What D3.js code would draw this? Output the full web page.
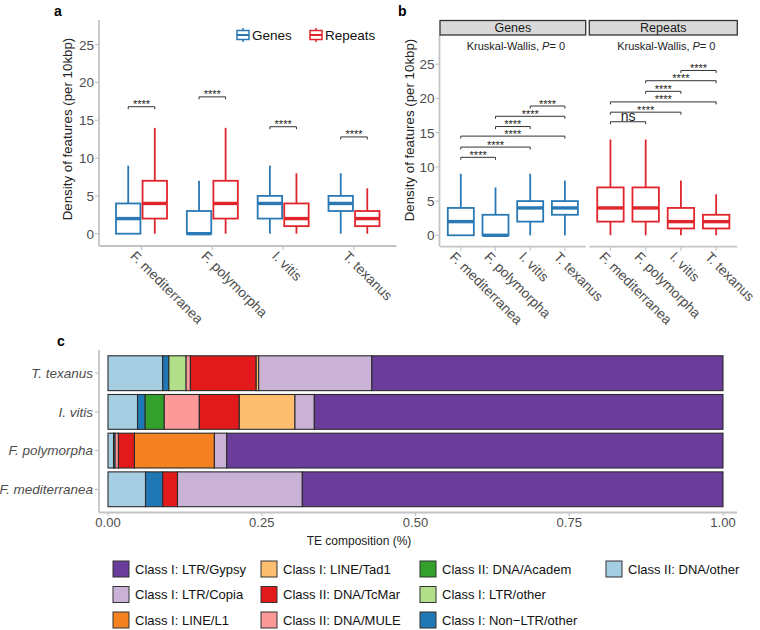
<!DOCTYPE html>
<html>
<head>
<meta charset="utf-8">
<script src="https://cdn.jsdelivr.net/npm/d3@7"></script>
<style>
  body { margin: 0; background: #fff; }
  svg { display: block; font-family: "Liberation Sans", Arial, sans-serif; }
</style>
</head>
<body>
<svg id="fig" width="760" height="630"></svg>
<script>
// species on the x axis (a, b) and y axis (c)
const species = ["F. mediterranea", "F. polymorpha", "I. vitis", "T. texanus"];

// box stats per species: [lower whisker, q1, median, q3, upper whisker]
const geneStats = [[0, 0, 2, 4, 9], [0, 0, 0, 3, 7], [0, 2, 4, 5, 9], [0, 3, 4, 5, 8]];
const repeatStats = [[0, 2, 4, 7, 14], [0, 2, 4, 7, 14], [0, 1, 2, 4, 8], [0, 1, 2, 3, 6]];

// panel a: genes vs repeats bracket height per species
const sigA = [16.8, 18.1, 14.15, 12.8];

// panel b: pairwise comparisons (species index pairs), bracket heights, labels
const compPairs = [[0, 1], [0, 2], [0, 3], [1, 2], [1, 3], [2, 3]];
const sigGenesY = [11.4, 12.9, 14.5, 15.9, 17.4, 18.9];
const sigGenesLab = ["****", "****", "****", "****", "****", "****"];
const sigRepeatsY = [16.6, 18.0, 19.5, 21.05, 22.6, 24.1];
const sigRepeatsLab = ["ns", "****", "****", "****", "****", "****"];

const yTicks = [0, 5, 10, 15, 20, 25];

// panel c: TE classes (legend order) and colours
const teClasses = [
  "Class I: LTR/Gypsy", "Class I: LTR/Copia", "Class I: LINE/L1",
  "Class I: LINE/Tad1", "Class II: DNA/TcMar", "Class II: DNA/MULE",
  "Class II: DNA/Academ", "Class I: LTR/other", "Class I: Non\u2212LTR/other",
  "Class II: DNA/other"
];
const teColors = ["#6a3d9a", "#cab2d6", "#f58220", "#fdbf6f", "#e31a1c",
  "#fb9a99", "#33a02c", "#b2df8a", "#1f78b4", "#a6cee3"];

// fractions per species, same order as teClasses
const compFMed = [0.684, 0.203, 0, 0, 0.024, 0, 0, 0, 0.028, 0.061];
const compFPoly = [0.807, 0.020, 0.130, 0, 0.026, 0.0055, 0, 0, 0.0025, 0.009];
const compIVitis = [0.6645, 0.0315, 0, 0.0905, 0.065, 0.057, 0.031, 0, 0.0125, 0.048];
const compTTex = [0.571, 0.184, 0, 0.004, 0.107, 0.007, 0, 0.028, 0.010, 0.089];
const compTicks = [0, 0.25, 0.5, 0.75, 1];

// colours
const geneCol = "#2a79b5";
const repCol = "#e0262c";
const axisCol = "#c4c4c4";
const tickTxt = "#4d4d4d";

const svg = d3.select("#fig");

// ---------- helpers ----------
function yAxisLeft(g, y, x, top, bottom) {
  g.append("line").attr("x1", x).attr("x2", x).attr("y1", top).attr("y2", bottom)
    .attr("stroke", axisCol).attr("stroke-width", 1.8);
  yTicks.forEach(t => {
    g.append("line").attr("x1", x - 4).attr("x2", x).attr("y1", y(t)).attr("y2", y(t))
      .attr("stroke", axisCol).attr("stroke-width", 1.2);
    g.append("text").attr("x", x - 5).attr("y", y(t)).attr("dy", "0.36em")
      .attr("text-anchor", "end").attr("font-size", 13.5).attr("fill", tickTxt).text(t);
  });
}

function xAxisBottom(g, x, x0, x1, yy) {
  g.append("line").attr("x1", x0).attr("x2", x1).attr("y1", yy).attr("y2", yy)
    .attr("stroke", axisCol).attr("stroke-width", 1.8);
  species.forEach(s => {
    const cx = x(s) + x.bandwidth() / 2;
    g.append("line").attr("x1", cx).attr("x2", cx).attr("y1", yy).attr("y2", yy + 4)
      .attr("stroke", axisCol).attr("stroke-width", 1.2);
    g.append("text")
      .attr("transform", `translate(${cx - 5},${yy + 4}) rotate(45)`)
      .attr("dy", "0.71em")
      .attr("font-size", 13.8).attr("fill", tickTxt).text(s);
  });
}

function drawBox(g, cx, w, st, y, col) {
  g.append("line").attr("x1", cx).attr("x2", cx).attr("y1", y(st[0])).attr("y2", y(st[1]))
    .attr("stroke", col).attr("stroke-width", 1.8);
  g.append("line").attr("x1", cx).attr("x2", cx).attr("y1", y(st[3])).attr("y2", y(st[4]))
    .attr("stroke", col).attr("stroke-width", 1.8);
  g.append("rect").attr("x", cx - w / 2).attr("y", y(st[3]))
    .attr("width", w).attr("height", y(st[1]) - y(st[3]))
    .attr("fill", "#fff").attr("stroke", col).attr("stroke-width", 1.8);
  g.append("line").attr("x1", cx - w / 2).attr("x2", cx + w / 2)
    .attr("y1", y(st[2])).attr("y2", y(st[2]))
    .attr("stroke", col).attr("stroke-width", 3.4);
}

function bracket(g, xa, xb, yy, label) {
  g.append("path")
    .attr("d", `M${xa},${yy + 2.5}V${yy}H${xb}V${yy + 2.5}`)
    .attr("fill", "none").attr("stroke", "#333").attr("stroke-width", 1);
  g.append("text").attr("x", (xa + xb) / 2).attr("y", label === "ns" ? yy - 0.5 : yy + 1.5)
    .attr("text-anchor", "middle")
    .attr("font-size", label === "ns" ? 14 : 11).attr("fill", "#222").text(label);
}

function yTitle(g, x, cy) {
  g.append("text").attr("transform", `translate(${x},${cy}) rotate(-90)`)
    .attr("text-anchor", "middle").attr("font-size", 13.3).attr("fill", "#222")
    .text("Density of features (per 10kbp)");
}

function panelLetter(x, y, s) {
  svg.append("text").attr("x", x).attr("y", y).attr("font-size", 14)
    .attr("font-weight", "bold").attr("fill", "#000").text(s);
}

// ---------- panel a ----------
const ga = svg.append("g");
const xa = d3.scaleBand().domain(species).range([99, 396.5]).paddingOuter(0.1).paddingInner(0);
const ya = d3.scaleLinear().domain([0, 25]).range([233.7, 44.7]);

yAxisLeft(ga, ya, 99, 20, 246);
xAxisBottom(ga, xa, 99, 396.5, 246);
yTitle(ga, 72, 129);
panelLetter(54, 16, "a");

const dodge = xa.bandwidth() * 0.75 / 2;
species.forEach((s, i) => {
  const c = xa(s) + xa.bandwidth() / 2;
  drawBox(ga, c - dodge / 2, dodge * 0.92, geneStats[i], ya, geneCol);
  drawBox(ga, c + dodge / 2, dodge * 0.92, repeatStats[i], ya, repCol);
  bracket(ga, c - dodge / 2, c + dodge / 2, ya(sigA[i]), "****");
});

// legend for panel a
function legendKey(g, x, yc, col) {
  const k = g.append("g").attr("transform", `translate(${x},${yc})`);
  k.append("line").attr("x1", 7).attr("x2", 7).attr("y1", -7).attr("y2", 7)
    .attr("stroke", col).attr("stroke-width", 1.5);
  k.append("rect").attr("x", 1).attr("y", -4.5).attr("width", 12).attr("height", 9)
    .attr("fill", "#fff").attr("stroke", col).attr("stroke-width", 1.5);
  k.append("line").attr("x1", 1).attr("x2", 13).attr("y1", 0).attr("y2", 0)
    .attr("stroke", col).attr("stroke-width", 2);
}
legendKey(ga, 236, 35, geneCol);
ga.append("text").attr("x", 252).attr("y", 35).attr("dy", "0.36em")
  .attr("font-size", 13.5).attr("fill", "#111").text("Genes");
legendKey(ga, 309, 35, repCol);
ga.append("text").attr("x", 325).attr("y", 35).attr("dy", "0.36em")
  .attr("font-size", 13.5).attr("fill", "#111").text("Repeats");

// ---------- panel b ----------
const gb = svg.append("g");
const yb = d3.scaleLinear().domain([0, 25]).range([235.3, 64.3]);
const facets = [
  { name: "Genes", x0: 440, x1: 585.7, stats: geneStats, col: geneCol, ys: sigGenesY, labs: sigGenesLab },
  { name: "Repeats", x0: 589.3, x1: 737.3, stats: repeatStats, col: repCol, ys: sigRepeatsY, labs: sigRepeatsLab }
];

yAxisLeft(gb, yb, 439.5, 35, 246.7);
yTitle(gb, 414, 130);
panelLetter(398, 16, "b");

facets.forEach(f => {
  const xb = d3.scaleBand().domain(species).range([f.x0, f.x1]).paddingOuter(0.1).paddingInner(0);
  // strip
  gb.append("rect").attr("x", f.x0).attr("y", 20.5).attr("width", f.x1 - f.x0).attr("height", 14.5)
    .attr("fill", "#d9d9d9").attr("stroke", "#333").attr("stroke-width", 1.3);
  gb.append("text").attr("x", (f.x0 + f.x1) / 2).attr("y", 27.8).attr("dy", "0.36em")
    .attr("text-anchor", "middle").attr("font-size", 12.5).attr("fill", "#1a1a1a").text(f.name);
  // Kruskal-Wallis label
  const kw = gb.append("text").attr("x", (f.x0 + f.x1) / 2 + 3).attr("y", 50)
    .attr("text-anchor", "middle").attr("font-size", 11).attr("fill", "#222");
  kw.append("tspan").text("Kruskal-Wallis, ");
  kw.append("tspan").attr("font-style", "italic").text("P");
  kw.append("tspan").text("= 0");

  xAxisBottom(gb, xb, f.x0, f.x1, 246.7);
  species.forEach((s, i) => {
    const c = xb(s) + xb.bandwidth() / 2;
    drawBox(gb, c, xb.bandwidth() * 0.75, f.stats[i], yb, f.col);
  });
  compPairs.forEach((p, j) => {
    const a = xb(species[p[0]]) + xb.bandwidth() / 2;
    const b = xb(species[p[1]]) + xb.bandwidth() / 2;
    bracket(gb, a, b, yb(f.ys[j]), f.labs[j]);
  });
});

// ---------- panel c ----------
const gc = svg.append("g");
panelLetter(57, 346, "c");
const comps = [compFMed, compFPoly, compIVitis, compTTex];
const rows = species.map((s, i) => {
  const r = { species: s };
  teClasses.forEach((k, j) => { r[k] = comps[i][j]; });
  return r;
});
const stackKeys = teClasses.slice().reverse(); // DNA/other at left, Gypsy at right
const series = d3.stack().keys(stackKeys)(rows);

const xc = d3.scaleLinear().domain([0, 1]).range([108, 723]);
const yc = d3.scaleBand().domain(species.slice().reverse()).range([350, 512.5])
  .paddingOuter(0.1).paddingInner(0);
const barH = yc.step() * 0.9;
const colorOf = d3.scaleOrdinal().domain(teClasses).range(teColors);

series.forEach(ser => {
  gc.selectAll(null)
    .data(ser.filter(d => d[1] - d[0] > 0))
    .join("rect")
    .attr("x", d => xc(d[0]))
    .attr("width", d => xc(d[1]) - xc(d[0]))
    .attr("y", d => yc(d.data.species) + yc.bandwidth() / 2 - barH / 2)
    .attr("height", barH)
    .attr("fill", colorOf(ser.key))
    .attr("stroke", "#2b2b2b")
    .attr("stroke-width", 1.1);
});

// axes for c
gc.append("line").attr("x1", 99).attr("x2", 99).attr("y1", 350).attr("y2", 512.5)
  .attr("stroke", axisCol).attr("stroke-width", 1.8);
gc.append("line").attr("x1", 99).attr("x2", 737).attr("y1", 512.5).attr("y2", 512.5)
  .attr("stroke", axisCol).attr("stroke-width", 1.8);
species.forEach(s => {
  const cy = yc(s) + yc.bandwidth() / 2;
  gc.append("line").attr("x1", 95).attr("x2", 99).attr("y1", cy).attr("y2", cy)
    .attr("stroke", axisCol).attr("stroke-width", 1.2);
  gc.append("text").attr("x", 93).attr("y", cy).attr("dy", "0.36em")
    .attr("text-anchor", "end").attr("font-size", 13.5).attr("font-style", "italic")
    .attr("fill", tickTxt).text(s);
});
compTicks.forEach(t => {
  gc.append("line").attr("x1", xc(t)).attr("x2", xc(t)).attr("y1", 512.5).attr("y2", 516)
    .attr("stroke", axisCol).attr("stroke-width", 1.2);
  gc.append("text").attr("x", xc(t)).attr("y", 522).attr("dy", "0.36em")
    .attr("text-anchor", "middle").attr("font-size", 13).attr("fill", tickTxt)
    .text(d3.format(".2f")(t));
});
gc.append("text").attr("x", 359).attr("y", 541).attr("dy", "0.36em")
  .attr("text-anchor", "middle").attr("font-size", 12).attr("fill", "#222")
  .text("TE composition (%)");

// legend for c (3 rows, filled by column)
const legX = [113, 261, 420, 606];
const legY = [569, 594.5, 620];
teClasses.forEach((k, i) => {
  const col = Math.floor(i / 3), row = i % 3;
  gc.append("rect").attr("x", legX[col]).attr("y", legY[row] - 8).attr("width", 16).attr("height", 16)
    .attr("fill", colorOf(k)).attr("stroke", "#333").attr("stroke-width", 1);
  gc.append("text").attr("x", legX[col] + 22).attr("y", legY[row]).attr("dy", "0.36em")
    .attr("font-size", 13).attr("fill", "#111").text(k);
});
</script>
</body>
</html>
